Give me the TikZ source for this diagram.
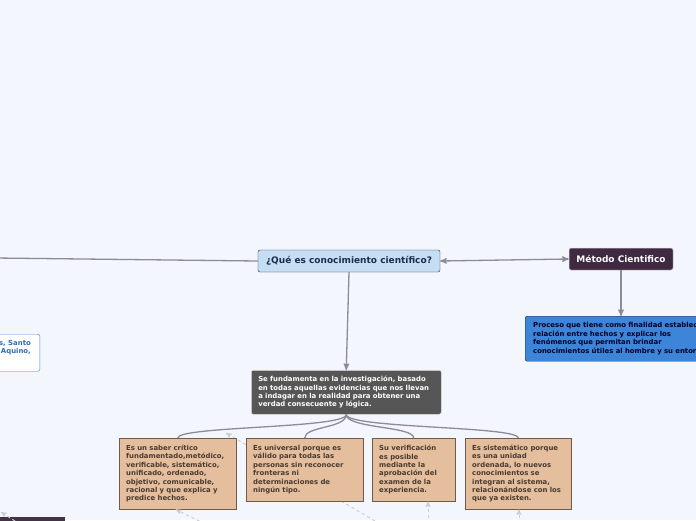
\documentclass[tikz,border=0pt]{standalone}
\usepackage{fontspec}
\setmainfont{DejaVu Sans}
\usetikzlibrary{arrows,positioning}
\definecolor{page}{HTML}{F3F6FD}
\definecolor{qblue}{HTML}{C5DEF4}
\definecolor{qnavy}{HTML}{1B2E4E}
\definecolor{mplum}{HTML}{3F2A42}
\definecolor{pblue}{HTML}{3D85D8}
\definecolor{gdark}{HTML}{565656}
\definecolor{tanfill}{HTML}{E4BE9D}
\definecolor{tanline}{HTML}{6E5B4B}
\definecolor{tantext}{HTML}{4A3A30}
\definecolor{hblue}{HTML}{3C86D8}
\definecolor{linkgray}{HTML}{8C8C98}
\definecolor{dashgray}{HTML}{C9CDD6}
\pgfdeclarelayer{backdrop}
\pgfdeclarelayer{links}
\pgfsetlayers{backdrop,links,main}
\begin{document}
\begin{tikzpicture}[x=1pt,y=-1pt,>=stealth',line width=1pt,inner sep=0pt]
		\tikzstyle{topic}=[draw=qnavy,fill=qblue,text=qnavy,rounded corners=2pt,
			font=\fontsize{9}{10}\bfseries,minimum width=182pt,minimum height=22pt]
		\tikzstyle{method}=[draw=white!70!gray,line width=0.5pt,fill=mplum,text=white,rounded corners=2pt,
			font=\fontsize{9}{10}\bfseries,minimum width=104pt,minimum height=22pt]
		\tikzstyle{small}=[font=\fontsize{6.9}{8.4}\bfseries,align=left,anchor=north west]
		\tikzstyle{trait}=[small,draw=tanline,fill=tanfill,text=tantext,inner xsep=7pt]
		\tikzstyle{link}=[draw=linkgray,line width=1.3pt]
		\tikzstyle{ghost}=[draw=dashgray,dashed,line width=1pt,->]

		\path[use as bounding box] (0,0) rectangle (696,520);
		\clip (0,0) rectangle (696,520);
		\begin{pgfonlayer}{backdrop}
			\fill[page] (0,0) rectangle (696,520);
		\end{pgfonlayer}

		\node[topic]	(qc)	at (349,261)	{¿Qué es conocimiento científico?};
		\node[method]	(mc)	at (621,259)	{Método Cientifico};
		\node[small,draw=qnavy,fill=pblue,text=black!85!blue,rounded corners=2pt,
			text width=210pt,inner xsep=8pt,minimum height=45pt]	(pb)	at (525,316)
			{Proceso que tiene como finalidad establecer la\\ relación entre hechos y explicar los\\
			fenómenos que permitan brindar\\ conocimientos útiles al hombre y su entorno.};
		\node[draw=hblue,fill=white,rounded corners=2pt,minimum width=70pt,minimum height=37pt,
			anchor=north east]	(hist)	at (40,334)	{};
		\node[small,anchor=north east,align=right,text=hblue!80!black]	(histtxt)
			at ([xshift=-9pt,yshift=-6pt]hist.north east)	{s, Santo\\ Aquino,};
		\node[fill=mplum!80!gdark,minimum width=85pt,minimum height=30pt,anchor=north west]
			(bl)	at (-20,517)	{};

		\node[small,draw=white!75!gray,line width=0.5pt,fill=gdark,text=white,rounded corners=2pt,
			text width=176pt,inner xsep=7pt,minimum height=44pt]	(gf)	at (251,370)
			{Se fundamenta en la investigación, basado\\ en todas aquellas evidencias que nos llevan\\
			a indagar en la realidad para obtener una\\ verdad consecuente y lógica.};

		\node[trait,text width=103pt,minimum height=71pt]	(t1)	at (119,438)
			{Es un saber crítico\\ fundamentado,metódico,\\ verificable, sistemático,\\ unificado, ordenado,\\
			objetivo, comunicable,\\ racional y que explica y\\ predice hechos.};
		\node[trait,text width=103pt,minimum height=63pt]	(t2)	at (246,438)
			{Es universal porque es\\ válido para todas las\\ personas sin reconocer\\ fronteras ni\\
			determinaciones de\\ ningún tipo.};
		\node[trait,text width=69pt,minimum height=63pt]	(t3)	at (372,438)
			{Su verificación\\ es posible\\ mediante la\\ aprobación del\\ examen de la\\ experiencia.};
		\node[trait,text width=92pt,minimum height=71pt]	(t4)	at (465,438)
			{Es sistemático porque\\ es una unidad\\ ordenada, lo nuevos\\ conocimientos se\\
			integran al sistema,\\ relacionándose con los\\ que ya existen.};

		% connectors
		\coordinate (offl) at (-5,258);
		\coordinate (g1) at (205,524);
		\coordinate (g2) at (380,524);
		\coordinate (g3) at (428,524);
		\coordinate (g4) at (519,524);
		\coordinate (g5) at (15,521);
		\coordinate (g2end) at (226,433);

		\begin{pgfonlayer}{links}
			\draw[ghost] (g2) -- (g2end);
		\end{pgfonlayer}
		\draw[ghost] (g1) -- ([xshift=-2pt]t1.south);
		\draw[ghost] (g3) -- (g3 |- t3.south);
		\draw[ghost] (g4) -- (g4 |- t4.south);
		\draw[ghost] (g5) -- (1,512);

		\draw[link] (offl) -- (qc.west);
		\draw[link,<->] (qc.east) -- (mc.west);
		\draw[link,->] (mc.south) -- (mc.south |- pb.north);
		\draw[link,->] (qc.south) -- (gf.north);
		\foreach \t in {t1,t2,t3,t4}
			\draw[link] (gf.south) .. controls +(0,14) and +(0,-12) .. (\t.north);
\end{tikzpicture}
\end{document}
